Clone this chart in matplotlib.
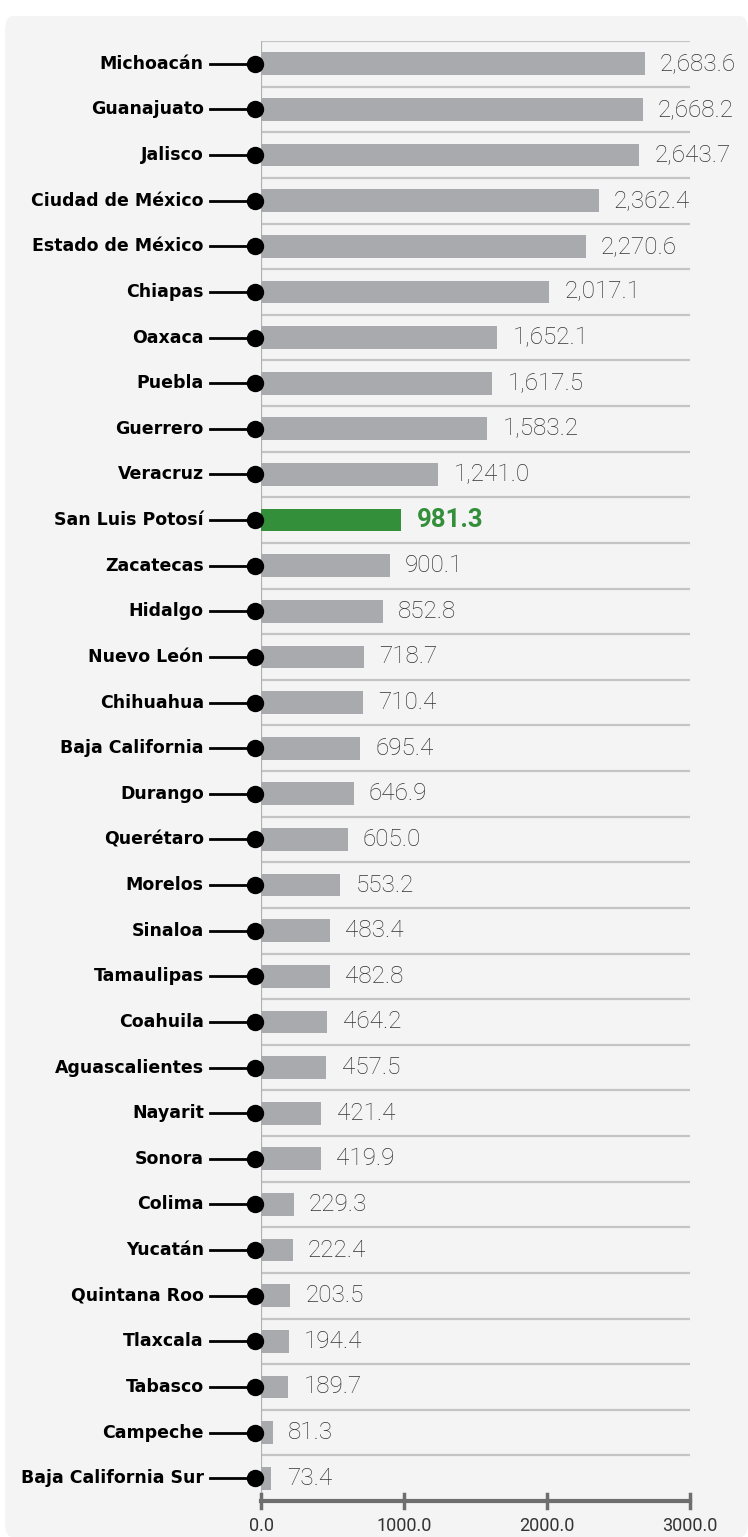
import matplotlib
matplotlib.use("Agg")
import matplotlib.pyplot as plt
from matplotlib.patches import FancyBboxPatch
import numpy as np

states = ["Michoacán", "Guanajuato", "Jalisco", "Ciudad de México", "Estado de México",
          "Chiapas", "Oaxaca", "Puebla", "Guerrero", "Veracruz", "San Luis Potosí",
          "Zacatecas", "Hidalgo", "Nuevo León", "Chihuahua", "Baja California", "Durango",
          "Querétaro", "Morelos", "Sinaloa", "Tamaulipas", "Coahuila", "Aguascalientes",
          "Nayarit", "Sonora", "Colima", "Yucatán", "Quintana Roo", "Tlaxcala", "Tabasco",
          "Campeche", "Baja California Sur"]
values = [2683.6, 2668.2, 2643.7, 2362.4, 2270.6, 2017.1, 1652.1, 1617.5, 1583.2, 1241.0,
          981.3, 900.1, 852.8, 718.7, 710.4, 695.4, 646.9, 605.0, 553.2, 483.4, 482.8,
          464.2, 457.5, 421.4, 419.9, 229.3, 222.4, 203.5, 194.4, 189.7, 81.3, 73.4]
highlight = "San Luis Potosí"
xticks = [0, 1000, 2000, 3000]
xtick_labels = ["0.0", "1000.0", "2000.0", "3000.0"]

W, H = 748, 1537
fig = plt.figure(figsize=(W / 100, H / 100), dpi=100)
fig.patch.set_facecolor("white")
panel = FancyBboxPatch((5 / W, 0), (W - 5) / W, (H - 10) / H - 0.004,
                       boxstyle="round,pad=0,rounding_size=0.01",
                       transform=fig.transFigure, facecolor="#f4f4f4",
                       edgecolor="none", zorder=-10)
fig.patches.append(panel)

left, right = 261 / W, 690 / W
top, bottom = 1 - 41 / H, 1 - 1501 / H
ax = fig.add_axes([left, bottom, right - left, top - bottom])
ax.set_facecolor("none")
n = len(states)
y = np.arange(n)
ax.set_xlim(0, 3000)
ax.set_ylim(n - 0.5, -0.5)

gray = "#a9aaad"
green = "#338f3a"
colors = [green if s == highlight else gray for s in states]
ax.barh(y, values, height=0.5, color=colors, zorder=2)

for b in np.arange(-0.5, n - 0.5, 1.0):
    ax.axhline(b, color="#c4c4c4", lw=1.6, zorder=1)

ax.axvline(0, color="#b0b0b0", lw=1.6, zorder=1.5)

for yi, s, v in zip(y, states, values):
    hl = s == highlight
    ax.annotate(f"{v:,.1f}", (v, yi), xytext=(11, 0), textcoords="offset points",
                va="center", ha="left",
                fontsize=18.5 if hl else 17.5,
                fontweight="bold" if hl else "light",
                color=green if hl else "#333333",
                family=["Roboto", "DejaVu Sans"], annotation_clip=False)
    ax.plot([-357, -42], [yi, yi], color="black", lw=2, clip_on=False, zorder=3)
    ax.plot([-42], [yi], "o", color="black", ms=11.5, clip_on=False, zorder=4)
    ax.text(-400, yi, s, ha="right", va="center", fontsize=12.5, fontweight="bold",
            color="black", family=["DejaVu Sans"])

for sp in ax.spines.values():
    sp.set_visible(False)
ax.set_yticks([])
ax.set_xticks([])

# bottom axis
ax.plot([0, 3000], [n - 0.5, n - 0.5], color="#6e6e6e", lw=3, clip_on=False, zorder=5)
for t, lab in zip(xticks, xtick_labels):
    ax.plot([t, t], [n - 0.5 - 0.16, n - 0.5 + 0.16], color="#6e6e6e", lw=2.5,
            clip_on=False, zorder=5)
    ax.text(t, n - 0.5 + 0.55, lab, ha="center", va="center", fontsize=13,
            fontweight="normal", color="#333333", family=["Roboto", "DejaVu Sans"])

fig.savefig("out.png", dpi=100, facecolor=fig.get_facecolor())
